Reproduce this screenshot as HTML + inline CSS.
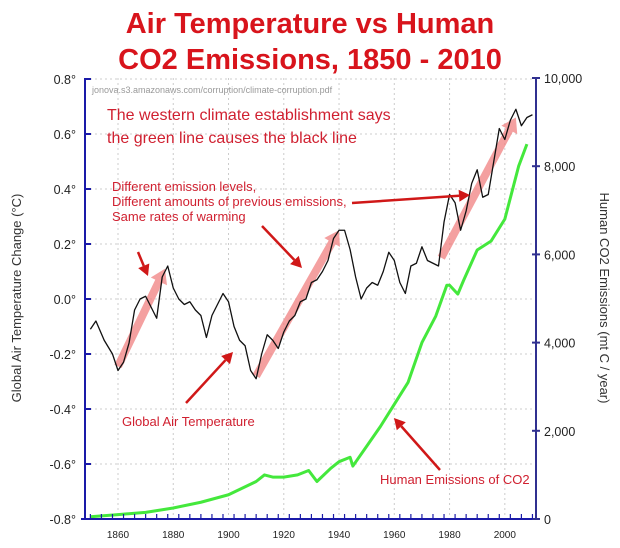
<!DOCTYPE html>
<html><head><meta charset="utf-8">
<style>
html,body{margin:0;padding:0;background:#fff;}
svg{display:block;font-family:"Liberation Sans",sans-serif;}
</style></head>
<body>
<svg id="chart" width="620" height="548" viewBox="0 0 620 548" xmlns="http://www.w3.org/2000/svg">
<text x="310" y="33" text-anchor="middle" font-size="29" font-weight="bold" fill="#d8141c">Air Temperature vs Human</text>
<text x="310" y="69" text-anchor="middle" font-size="29" font-weight="bold" fill="#d8141c">CO2 Emissions, 1850 - 2010</text>
<g id="grid"></g>
<g id="marks"></g>
<g id="axes"></g>
<text x="92" y="93" font-size="9" fill="#999">jonova.s3.amazonaws.com/corruption/climate-corruption.pdf</text>
<text x="107" y="120" font-size="16" fill="#d02030">The western climate establishment says</text>
<text x="107" y="143" font-size="16" fill="#d02030">the green line causes the black line</text>
<text x="112" y="191" font-size="13" fill="#d02030">Different emission levels,</text>
<text x="112" y="206" font-size="13" fill="#d02030">Different amounts of previous emissions,</text>
<text x="112" y="221" font-size="13" fill="#d02030">Same rates of warming</text>
<text x="122" y="426" font-size="13" fill="#d02030">Global Air Temperature</text>
<text x="380" y="484" font-size="13" fill="#d02030">Human Emissions of CO2</text>
<text transform="translate(21,298) rotate(-90)" text-anchor="middle" font-size="13" fill="#333">Global Air Temperature Change  (°C)</text>
<text transform="translate(600,298) rotate(90)" text-anchor="middle" font-size="13" fill="#333">Human CO2 Emissions  (mt C / year)</text>
</svg>
<script>
const tempYears=[1850,1852,1855,1858,1860,1862,1864,1866,1868,1870,1872,1874,1876,1878,1880,1882,1884,1886,1888,1890,1892,1894,1896,1898,1900,1902,1904,1906,1908,1910,1912,1914,1916,1918,1920,1922,1924,1926,1928,1930,1932,1934,1936,1938,1940,1942,1944,1946,1948,1950,1952,1954,1956,1958,1960,1962,1964,1966,1968,1970,1972,1974,1976,1978,1980,1982,1984,1986,1988,1990,1992,1994,1996,1998,2000,2002,2004,2006,2008,2010];
const tempValues=[-0.11,-0.08,-0.15,-0.2,-0.26,-0.23,-0.16,-0.04,0.0,0.01,-0.03,-0.07,0.08,0.12,0.04,0.0,-0.02,-0.01,-0.04,-0.06,-0.14,-0.06,-0.02,0.02,-0.01,-0.1,-0.15,-0.17,-0.26,-0.29,-0.2,-0.13,-0.15,-0.18,-0.12,-0.08,-0.06,-0.01,0.0,0.06,0.07,0.1,0.14,0.22,0.25,0.25,0.18,0.08,0.0,0.04,0.06,0.05,0.1,0.17,0.14,0.06,0.02,0.12,0.13,0.19,0.14,0.13,0.12,0.28,0.38,0.35,0.25,0.32,0.42,0.47,0.37,0.38,0.5,0.62,0.58,0.65,0.69,0.63,0.66,0.67];
const co2Years=[1850,1860,1870,1880,1890,1900,1910,1913,1916,1920,1925,1929,1932,1937,1940,1944,1945,1950,1955,1960,1965,1970,1975,1979,1980,1983,1985,1990,1995,2000,2005,2008];
const co2Values=[50,100,150,250,380,550,850,1000,950,950,1000,1100,850,1150,1300,1400,1200,1650,2100,2600,3100,4000,4600,5300,5300,5100,5400,6100,6300,6800,8000,8500];
const yearTicks=[1860,1880,1900,1920,1940,1960,1980,2000];
const tempTicks=[-0.8,-0.6,-0.4,-0.2,0.0,0.2,0.4,0.6,0.8];
const tempTickLabels=["-0.8°","-0.6°","-0.4°","-0.2°","0.0°","0.2°","0.4°","0.6°","0.8°"];
const co2Ticks=[0,2000,4000,6000,8000,10000];
const co2TickLabels=["0","2,000","4,000","6,000","8,000","10,000"];
const trendStarts=[[1860,-0.245],[1910,-0.28],[1977,0.15]];
const trendEnds=[[1877,0.11],[1940,0.25],[2004,0.66]];

const NS="http://www.w3.org/2000/svg";
const X0=85,X1=536,YT=78,YB=519;
const xs=y=>118+(y-1860)*2.763;
const yt=t=>299-t*275;
const yc=c=>YB-c*(YB-YT)/10000;
function mk(tag,attrs,parent){const e=document.createElementNS(NS,tag);for(const k in attrs)e.setAttribute(k,attrs[k]);parent.appendChild(e);return e;}
const grid=document.getElementById('grid'),marks=document.getElementById('marks'),axes=document.getElementById('axes');

yearTicks.forEach(y=>{const l=mk('line',{x1:xs(y),x2:xs(y),y1:YT,y2:YB,stroke:'#ccc','stroke-dasharray':'2,3'},grid);

});
tempTicks.forEach(t=>{if(t===-0.8)return;const l=mk('line',{x1:X0,x2:X1,y1:yt(t),y2:yt(t),stroke:'#ccc','stroke-dasharray':'2,3'},grid);

});

trendStarts.forEach((s,i)=>{const e=trendEnds[i];
const x1=xs(s[0]),y1=yt(s[1]),x2=xs(e[0]),y2=yt(e[1]);
const dx=x2-x1,dy=y2-y1,L=Math.hypot(dx,dy),ux=dx/L,uy=dy/L,px=-uy,py=ux;
const bx=x2-ux*14,by=y2-uy*14;
const pts=[[x1+px*4,y1+py*4],[bx+px*4,by+py*4],[bx+px*9,by+py*9],[x2,y2],[bx-px*9,by-py*9],[bx-px*4,by-py*4],[x1-px*4,y1-py*4]].map(p=>p.join(',')).join(' ');
const g=mk('polygon',{points:pts,fill:'#f08080','fill-opacity':'0.75'},marks);

});

const cp=mk('polyline',{points:co2Years.map((y,i)=>xs(y)+','+yc(co2Values[i])).join(' '),fill:'none',stroke:'#44e83c','stroke-width':3,'stroke-linejoin':'round'},marks);


const tp=mk('polyline',{points:tempYears.map((y,i)=>xs(y)+','+yt(tempValues[i])).join(' '),fill:'none',stroke:'#111','stroke-width':1.3,'stroke-linejoin':'round'},marks);



[[138,252,148,276],[262,226,302,268],[352,203,470,195],[186,403,233,352],[440,470,394,418]].forEach(a=>{
const [x1,y1,x2,y2]=a,dx=x2-x1,dy=y2-y1,L=Math.hypot(dx,dy),ux=dx/L,uy=dy/L;
const bx=x2-ux*11,by=y2-uy*11;
const g=mk('g',{},marks);


mk('line',{x1:x1,y1:y1,x2:bx,y2:by,stroke:'#d01818','stroke-width':2.5},g);
mk('polygon',{points:`${x2},${y2} ${bx-uy*6},${by+ux*6} ${bx+uy*6},${by-ux*6}`,fill:'#d01818'},g);});

let a=mk('line',{x1:X0,x2:X0,y1:YT,y2:YB,stroke:'#1a1aa8','stroke-width':2},axes);


a=mk('line',{x1:X1,x2:X1,y1:YT,y2:YB,stroke:'#303090','stroke-width':2},axes);


a=mk('line',{x1:X0-4,x2:X1,y1:YB,y2:YB,stroke:'#1a1aa8','stroke-width':2},axes);


tempTicks.forEach((t,i)=>{mk('line',{x1:X0,x2:X0+6,y1:yt(t),y2:yt(t),stroke:'#1a1aa8','stroke-width':2},axes);
const tx=mk('text',{x:X0-9,y:yt(t)+5,'text-anchor':'end','font-size':12.5,fill:'#222'},axes);tx.textContent=tempTickLabels[i];

});
co2Ticks.forEach((c,i)=>{mk('line',{x1:X1-4,x2:X1+4,y1:yc(c),y2:yc(c),stroke:'#303090','stroke-width':2},axes);
const tx=mk('text',{x:X1+8,y:yc(c)+5,'font-size':12.5,fill:'#222'},axes);tx.textContent=co2TickLabels[i];

});
for(let y=1850;y<=2010;y+=4){const big=yearTicks.includes(y);mk('line',{x1:xs(y),x2:xs(y),y1:YB-(big?8:5),y2:YB,stroke:'#1a1aa8','stroke-width':big?2:1.2},axes);}
yearTicks.forEach(y=>{const tx=mk('text',{x:xs(y),y:538,'text-anchor':'middle','font-size':10,fill:'#222'},axes);tx.textContent=y;

});
</script>
</body></html>
